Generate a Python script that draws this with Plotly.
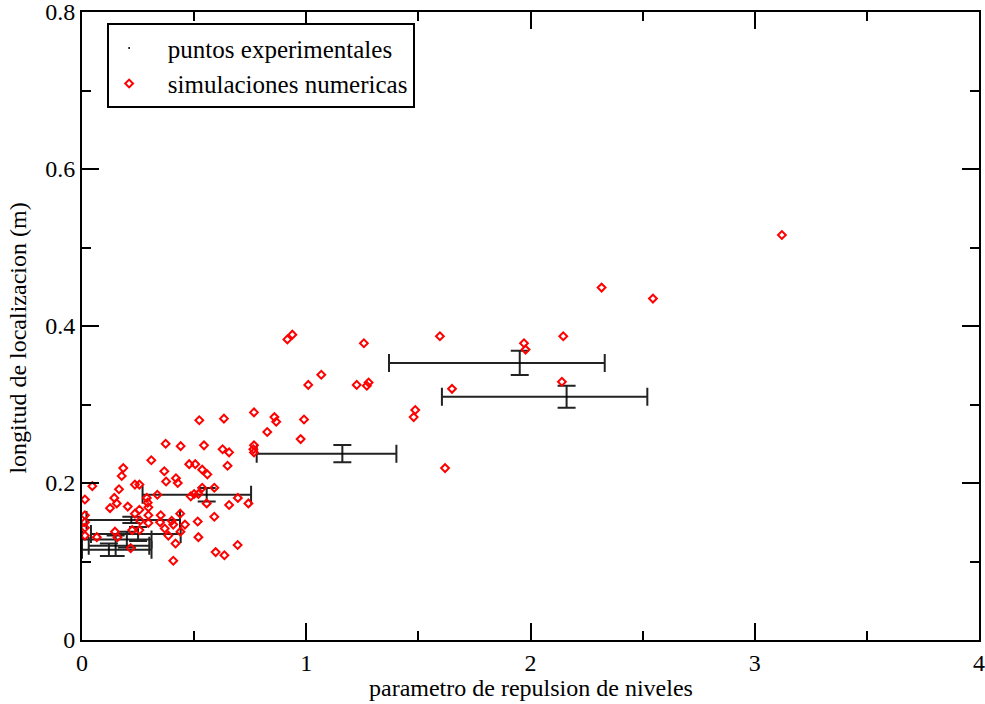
import plotly.graph_objects as go

# Simulated points (numerical simulations)
sim_x = [3.121, 2.317, 2.546, 2.146, 1.971, 1.978, 1.596, 1.257, 2.140, 1.650,
         1.486, 1.479, 1.619, 0.916, 0.938, 1.067, 1.009, 1.225, 1.270, 1.278,
         0.767, 0.858, 0.866, 0.990, 0.826, 0.975, 0.767, 0.764, 0.767,
         0.523, 0.633, 0.373, 0.440, 0.544, 0.309, 0.184, 0.177, 0.367, 0.375,
         0.419, 0.427, 0.046, 0.165, 0.236, 0.256, 0.478, 0.505, 0.627, 0.656,
         0.649, 0.536, 0.559, 0.536, 0.590,
         0.013, 0.144, 0.155, 0.125, 0.204, 0.256, 0.289, 0.293, 0.296, 0.336,
         0.485, 0.500, 0.519, 0.556, 0.656, 0.695, 0.742, 0.013, 0.013, 0.013,
         0.013, 0.236, 0.296, 0.351, 0.438, 0.516, 0.590, 0.400, 0.407, 0.459,
         0.259, 0.296, 0.348, 0.369, 0.439, 0.147, 0.224, 0.256, 0.066, 0.158,
         0.385, 0.519, 0.417, 0.217, 0.694, 0.596, 0.635, 0.407]
sim_y = [0.516, 0.449, 0.435, 0.387, 0.378, 0.370, 0.387, 0.378, 0.329, 0.320,
         0.293, 0.284, 0.219, 0.383, 0.389, 0.338, 0.325, 0.325, 0.324, 0.328,
         0.290, 0.284, 0.278, 0.281, 0.265, 0.256, 0.248, 0.243, 0.239,
         0.280, 0.282, 0.250, 0.247, 0.248, 0.229, 0.219, 0.209, 0.215, 0.202,
         0.206, 0.200, 0.196, 0.192, 0.198, 0.198, 0.224, 0.224, 0.243, 0.239,
         0.222, 0.217, 0.211, 0.194, 0.194,
         0.179, 0.181, 0.174, 0.168, 0.170, 0.166, 0.181, 0.175, 0.169, 0.185,
         0.183, 0.186, 0.186, 0.174, 0.172, 0.181, 0.174, 0.159, 0.150, 0.143,
         0.133, 0.161, 0.159, 0.159, 0.161, 0.151, 0.157, 0.152, 0.147, 0.147,
         0.152, 0.149, 0.150, 0.142, 0.138, 0.138, 0.140, 0.140, 0.131, 0.131,
         0.133, 0.131, 0.123, 0.117, 0.121, 0.112, 0.108, 0.101]

# Experimental points with asymmetric x errors and symmetric y errors
exp_x = [1.952, 2.161, 1.161, 0.556, 0.220, 0.250, 0.150, 0.200, 0.120]
exp_y = [0.353, 0.310, 0.2374, 0.185, 0.153, 0.135, 0.120, 0.128, 0.115]
exp_x_minus = [0.583, 0.556, 0.382, 0.286, 0.200, 0.210, 0.120, 0.200, 0.120]
exp_x_plus = [0.379, 0.360, 0.241, 0.198, 0.217, 0.190, 0.150, 0.110, 0.190]
exp_y_err = [0.0155, 0.014, 0.011, 0.0085, 0.004, 0.009, 0.013, 0.010, 0.008]

x_ticks = [0, 1, 2, 3, 4]
y_ticks = [0, 0.2, 0.4, 0.6, 0.8]
y_tick_text = ["0", "0.2", "0.4", "0.6", "0.8"]

FONT = "Liberation Serif"
NB = "\u00a0"

fig = go.Figure()
fig.add_trace(go.Scatter(
    x=exp_x, y=exp_y, mode="markers", name=NB * 3 + "puntos experimentales",
    marker=dict(color="black", size=2),
    error_x=dict(type="data", symmetric=False, array=exp_x_plus,
                 arrayminus=exp_x_minus, color="#222222", thickness=2, width=9),
    error_y=dict(type="data", array=exp_y_err, color="#222222",
                 thickness=2, width=9),
))
fig.add_trace(go.Scatter(
    x=sim_x, y=sim_y, mode="markers", name=NB * 3 + "simulaciones numericas",
    marker=dict(symbol="diamond-open", color="red", size=6,
                line=dict(color="red", width=2)),
))

axis_common = dict(
    showgrid=False, zeroline=False, showline=True, linecolor="black",
    linewidth=2, mirror="ticks", ticks="inside", ticklen=17, tickwidth=1.5,
    tickcolor="black", tickfont=dict(family=FONT, size=24, color="black"),
    automargin=False, ticklabeloverflow="allow",
)
fig.update_xaxes(range=[0, 4], tickvals=x_ticks,
                 minor=dict(dtick=0.5, ticks="inside", ticklen=9,
                            tickwidth=1.5, tickcolor="black"),
                 **axis_common)
fig.update_yaxes(range=[0, 0.8001], tickvals=y_ticks, ticktext=y_tick_text,
                 minor=dict(dtick=0.1, ticks="inside", ticklen=9,
                            tickwidth=1.5, tickcolor="black"),
                 **axis_common)

fig.add_annotation(text="parametro de repulsion de niveles",
                   xref="paper", yref="paper", x=0.5, y=-0.0764,
                   xanchor="center", yanchor="middle", showarrow=False,
                   font=dict(family=FONT, size=24, color="black"))
fig.add_annotation(text="longitud de localizacion (m)",
                   xref="paper", yref="paper", x=-0.0713, y=0.48,
                   xanchor="center", yanchor="middle", showarrow=False,
                   textangle=-90,
                   font=dict(family=FONT, size=24, color="black"))

fig.update_layout(
    width=985, height=704,
    margin=dict(l=82, r=6, t=12, b=64, autoexpand=False),
    paper_bgcolor="white", plot_bgcolor="white",
    showlegend=True,
    legend=dict(x=0.028, y=0.982, xanchor="left", yanchor="top",
                bgcolor="white", bordercolor="black", borderwidth=2,
                font=dict(family=FONT, size=25, color="black"),
                tracegroupgap=0, itemsizing="trace"),
)

fig.write_html("out.html",
               config={"displayModeBar": False},
               post_script="document.body.style.margin='0';"
                           "document.body.style.overflow='hidden';")
